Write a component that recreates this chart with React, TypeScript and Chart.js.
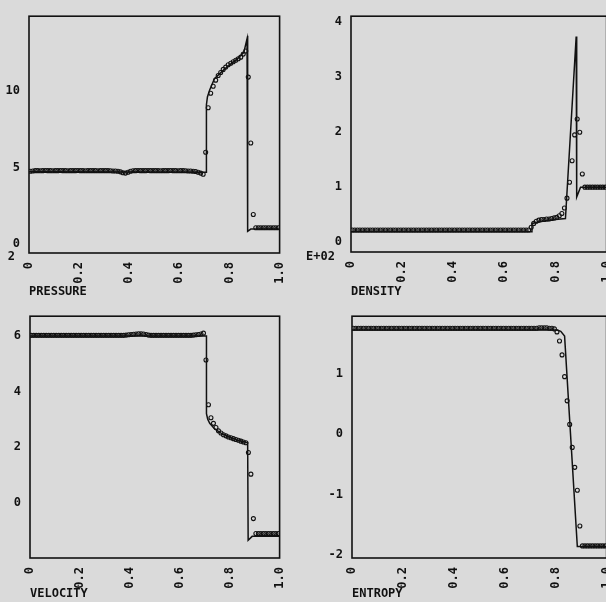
import React, { useEffect, useRef } from "react";
import { Chart, registerables } from "chart.js";

Chart.register(...registerables);

// ---------- data ----------
const X_TICKS = [0, 0.2, 0.4, 0.6, 0.8, 1.0];
const X_TICK_LABELS = ["0", "0.2", "0.4", "0.6", "0.8", "1.0"];

// numerical solution: cell centres 0.005 .. 0.995
const CELL_X = Array.from({ length: 100 }, (_, i) => +(0.005 + i * 0.01).toFixed(3));

const PRESSURE_PTS = [
  4.76, 4.78, 4.8, 4.8, 4.79, 4.8, 4.81, 4.8, 4.8, 4.79,
  4.8, 4.8, 4.81, 4.8, 4.8, 4.79, 4.8, 4.8, 4.8, 4.81,
  4.8, 4.8, 4.79, 4.8, 4.8, 4.8, 4.8, 4.79, 4.8, 4.8,
  4.8, 4.8, 4.79, 4.78, 4.78, 4.76, 4.72, 4.66, 4.64, 4.7,
  4.76, 4.79, 4.8, 4.81, 4.8, 4.8, 4.8, 4.81, 4.8, 4.8,
  4.8, 4.8, 4.79, 4.8, 4.8, 4.8, 4.81, 4.8, 4.8, 4.79,
  4.8, 4.8, 4.79, 4.78, 4.78, 4.76, 4.74, 4.7, 4.64, 4.56,
  6.0, 8.9, 9.85, 10.3, 10.7, 11.0, 11.2, 11.4, 11.55, 11.7,
  11.8, 11.9, 12.0, 12.1, 12.2, 12.4, 12.6, 10.9, 6.6, 1.94,
  1.08, 1.08, 1.08, 1.08, 1.08, 1.08, 1.08, 1.08, 1.08, 1.08,
];
const PRESSURE_EXACT_X = [0, 0.708, 0.708, 0.712, 0.721, 0.74, 0.779, 0.83, 0.857, 0.87, 0.872, 0.873, 0.885, 1.0];
const PRESSURE_EXACT_Y = [4.72, 4.7, 9.1, 9.6, 10.06, 10.8, 11.4, 12.07, 12.5, 13.4, 13.6, 0.84, 0.99, 0.99];

const DENSITY_PTS = [
  0.22, 0.22, 0.22, 0.22, 0.22, 0.22, 0.22, 0.22, 0.22, 0.22,
  0.22, 0.22, 0.22, 0.22, 0.22, 0.22, 0.22, 0.22, 0.22, 0.22,
  0.22, 0.22, 0.22, 0.22, 0.22, 0.22, 0.22, 0.22, 0.22, 0.22,
  0.22, 0.22, 0.22, 0.22, 0.22, 0.22, 0.22, 0.22, 0.22, 0.22,
  0.22, 0.22, 0.22, 0.22, 0.22, 0.22, 0.22, 0.22, 0.22, 0.22,
  0.22, 0.22, 0.22, 0.22, 0.22, 0.22, 0.22, 0.22, 0.22, 0.22,
  0.22, 0.22, 0.22, 0.22, 0.22, 0.22, 0.22, 0.22, 0.22, 0.22,
  0.27, 0.34, 0.38, 0.4, 0.41, 0.41, 0.42, 0.42, 0.43, 0.44,
  0.45, 0.48, 0.52, 0.62, 0.8, 1.09, 1.48, 1.95, 2.24, 2.0,
  1.24, 1.0, 1.0, 1.0, 1.0, 1.0, 1.0, 1.0, 1.0, 1.0,
];
const DENSITY_EXACT_X = [0, 0.706, 0.708, 0.75, 0.8, 0.839, 0.881, 0.883, 0.898, 1.0];
const DENSITY_EXACT_Y = [0.19, 0.19, 0.34, 0.38, 0.41, 0.43, 3.74, 0.82, 1.0, 1.0];

const VELOCITY_PTS = [
  6.02, 6.02, 6.02, 6.02, 6.02, 6.02, 6.02, 6.02, 6.02, 6.02,
  6.02, 6.02, 6.02, 6.02, 6.02, 6.02, 6.02, 6.02, 6.02, 6.02,
  6.02, 6.02, 6.02, 6.02, 6.02, 6.02, 6.02, 6.02, 6.02, 6.02,
  6.02, 6.02, 6.02, 6.02, 6.02, 6.02, 6.02, 6.02, 6.03, 6.04,
  6.05, 6.06, 6.07, 6.08, 6.08, 6.07, 6.05, 6.03, 6.02, 6.02,
  6.02, 6.02, 6.02, 6.02, 6.02, 6.02, 6.02, 6.02, 6.02, 6.02,
  6.02, 6.02, 6.02, 6.02, 6.02, 6.03, 6.04, 6.05, 6.07, 6.1,
  5.13, 3.52, 3.05, 2.85, 2.7, 2.58, 2.5, 2.44, 2.4, 2.36,
  2.33, 2.3, 2.27, 2.24, 2.21, 2.18, 2.15, 1.8, 1.02, -0.58,
  -1.12, -1.12, -1.12, -1.12, -1.12, -1.12, -1.12, -1.12, -1.12, -1.12,
];
const VELOCITY_EXACT_X = [0, 0.707, 0.707, 0.712, 0.72, 0.74, 0.765, 0.8, 0.84, 0.872, 0.874, 0.89, 1.0];
const VELOCITY_EXACT_Y = [6.0, 6.0, 3.2, 3.0, 2.85, 2.65, 2.5, 2.35, 2.22, 2.15, -1.36, -1.22, -1.22];

const ENTROPY_PTS = [
  1.75, 1.75, 1.75, 1.75, 1.75, 1.75, 1.75, 1.75, 1.75, 1.75,
  1.75, 1.75, 1.75, 1.75, 1.75, 1.75, 1.75, 1.75, 1.75, 1.75,
  1.75, 1.75, 1.75, 1.75, 1.75, 1.75, 1.75, 1.75, 1.75, 1.75,
  1.75, 1.75, 1.75, 1.75, 1.75, 1.75, 1.75, 1.75, 1.75, 1.75,
  1.75, 1.75, 1.75, 1.75, 1.75, 1.75, 1.75, 1.75, 1.75, 1.75,
  1.75, 1.75, 1.75, 1.75, 1.75, 1.75, 1.75, 1.75, 1.75, 1.75,
  1.75, 1.75, 1.75, 1.75, 1.75, 1.75, 1.75, 1.75, 1.75, 1.75,
  1.75, 1.75, 1.75, 1.76, 1.76, 1.76, 1.76, 1.75, 1.75, 1.74,
  1.69, 1.54, 1.31, 0.95, 0.55, 0.16, -0.22, -0.55, -0.93, -1.52,
  -1.85, -1.85, -1.85, -1.85, -1.85, -1.85, -1.85, -1.85, -1.85, -1.85,
];
const ENTROPY_EXACT_X = [0, 0.805, 0.82, 0.835, 0.885, 1.0];
const ENTROPY_EXACT_Y = [1.72, 1.72, 1.7, 1.62, -1.86, -1.86];

const PRESSURE_Y_TICKS = [0, 5, 10];
const DENSITY_Y_TICKS = [0, 1, 2, 3, 4];
const VELOCITY_Y_TICKS = [0, 2, 4, 6];
const ENTROPY_Y_TICKS = [-2, -1, 0, 1];

// ---------- drawing ----------
const FONT = "'DejaVu Sans Mono', monospace";
const INK = "#111";

type PanelSpec = {
  left: number; top: number; w: number; h: number;
  areaLeft: number; areaTop: number; areaRight: number; areaBottom: number;
  yMin: number; yMax: number; yTicks: number[];
  title: string;
  pts: number[]; exX: number[]; exY: number[];
  extra?: { text: string; x: number; y: number }[];
};

const boxPlugin = {
  id: "box",
  afterDatasetsDraw(chart: any, _a: any, opts: any) {
    const { ctx, chartArea } = chart;
    ctx.save();
    ctx.strokeStyle = INK;
    ctx.lineWidth = 1.6;
    ctx.strokeRect(chartArea.left, chartArea.top, chartArea.right - chartArea.left, chartArea.bottom - chartArea.top);
    ctx.fillStyle = INK;
    ctx.font = `bold 12px ${FONT}`;
    ctx.textAlign = "right";
    ctx.textBaseline = "middle";
    (opts.extra || []).forEach((e: any) => ctx.fillText(e.text, e.x, e.y));
    ctx.restore();
  },
};

function Panel({ spec }: { spec: PanelSpec }) {
  const ref = useRef<HTMLCanvasElement>(null);
  useEffect(() => {
    if (!ref.current) return;
    const s = spec;
    const tickFont = { family: FONT, size: 12, weight: "bold" };
    const chart = new Chart(ref.current, {
      type: "scatter",
      data: {
        datasets: [
          {
            type: "line",
            data: s.exX.map((x, i) => ({ x, y: s.exY[i] })),
            borderColor: INK,
            borderWidth: 1.5,
            pointRadius: 0,
            fill: false,
            tension: 0,
          } as any,
          {
            type: "scatter",
            data: CELL_X.map((x, i) => ({ x, y: s.pts[i] })),
            pointStyle: "circle",
            pointRadius: 2,
            borderWidth: 1.1,
            borderColor: INK,
            backgroundColor: "rgba(0,0,0,0)",
          } as any,
        ],
      },
      options: {
        animation: false,
        responsive: false,
        events: [],
        layout: {
          padding: { left: 0, top: s.areaTop, right: s.w - s.areaRight, bottom: 0 },
        },
        plugins: {
          legend: { display: false },
          tooltip: { enabled: false },
          box: { extra: s.extra || [] },
        } as any,
        scales: {
          x: {
            type: "linear",
            min: 0,
            max: 1,
            afterBuildTicks: (sc: any) => {
              sc.ticks = X_TICKS.map((v) => ({ value: v }));
            },
            afterFit: (sc: any) => {
              sc.height = s.h - s.areaBottom;
            },
            grid: { display: false, drawTicks: false },
            border: { display: false },
            ticks: {
              autoSkip: false,
              minRotation: 90,
              maxRotation: 90,
              padding: 9,
              color: INK,
              font: tickFont,
              callback: (_v: any, i: number) => X_TICK_LABELS[i],
            },
            title: {
              display: true,
              text: s.title,
              align: "start",
              color: INK,
              font: tickFont,
              padding: { top: 0, bottom: 1 },
            },
          },
          y: {
            type: "linear",
            min: s.yMin,
            max: s.yMax,
            afterBuildTicks: (sc: any) => {
              sc.ticks = s.yTicks.map((v) => ({ value: v }));
            },
            afterFit: (sc: any) => {
              sc.width = s.areaLeft;
            },
            grid: { display: false, drawTicks: false },
            border: { display: false },
            ticks: {
              padding: 9,
              color: INK,
              font: tickFont,
              callback: (v: any) => String(v),
            },
          },
        },
      },
      plugins: [boxPlugin],
    } as any);
    return () => chart.destroy();
  }, [spec]);
  return (
    <canvas
      ref={ref}
      width={spec.w}
      height={spec.h}
      style={{ position: "absolute", left: spec.left, top: spec.top, width: spec.w, height: spec.h }}
    />
  );
}

const PANELS: PanelSpec[] = [
  {
    left: 0, top: 0, w: 303, h: 300,
    areaLeft: 29, areaTop: 9, areaRight: 287, areaBottom: 253,
    yMin: -0.57, yMax: 14.87, yTicks: PRESSURE_Y_TICKS,
    title: "PRESSURE",
    pts: PRESSURE_PTS, exX: PRESSURE_EXACT_X, exY: PRESSURE_EXACT_Y,
    extra: [{ text: "2", x: 15, y: 257 }],
  },
  {
    left: 300, top: 0, w: 330, h: 300,
    areaLeft: 51, areaTop: 9, areaRight: 308, areaBottom: 252,
    yMin: -0.18, yMax: 4.11, yTicks: DENSITY_Y_TICKS,
    title: "DENSITY",
    pts: DENSITY_PTS, exX: DENSITY_EXACT_X, exY: DENSITY_EXACT_Y,
    extra: [{ text: "E+02", x: 35, y: 257 }],
  },
  {
    left: 0, top: 300, w: 303, h: 302,
    areaLeft: 30, areaTop: 14, areaRight: 287, areaBottom: 258,
    yMin: -2.0, yMax: 6.71, yTicks: VELOCITY_Y_TICKS,
    title: "VELOCITY",
    pts: VELOCITY_PTS, exX: VELOCITY_EXACT_X, exY: VELOCITY_EXACT_Y,
  },
  {
    left: 300, top: 300, w: 330, h: 302,
    areaLeft: 52, areaTop: 14, areaRight: 309, areaBottom: 258,
    yMin: -2.05, yMax: 1.95, yTicks: ENTROPY_Y_TICKS,
    title: "ENTROPY",
    pts: ENTROPY_PTS, exX: ENTROPY_EXACT_X, exY: ENTROPY_EXACT_Y,
  },
];

export default function App() {
  return (
    <div
      style={{
        position: "absolute",
        left: 0,
        top: 0,
        width: 606,
        height: 602,
        overflow: "hidden",
        background: "#dadada",
      }}
    >
      {PANELS.map((p, i) => (
        <Panel key={i} spec={p} />
      ))}
    </div>
  );
}
